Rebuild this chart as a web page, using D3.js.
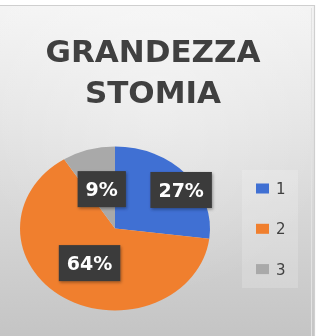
<!DOCTYPE html>
<html>
<head>
<meta charset="utf-8">
<script src="https://cdn.jsdelivr.net/npm/d3@7"></script>
<style>
  html, body { margin: 0; padding: 0; background: #ffffff; }
  svg { display: block; }
</style>
</head>
<body>
<svg id="chart" width="331" height="336"></svg>
<script>
// Chart content
const title = ["GRANDEZZA", "STOMIA"];
const categories = ["1", "2", "3"];
const values = [27, 64, 9];
const colors = ["#3f6fd3", "#f07f2f", "#a9a9a9"];

const W = 331, H = 336;
const svg = d3.select("#chart");
const defs = svg.append("defs");

// panel background: light at the top, darker grey towards the bottom
const bg = defs.append("linearGradient").attr("id", "bg")
  .attr("x1", 0).attr("y1", 0).attr("x2", 0).attr("y2", 1);
bg.append("stop").attr("offset", "0%").attr("stop-color", "#f4f4f4");
bg.append("stop").attr("offset", "35%").attr("stop-color", "#e4e4e4");
bg.append("stop").attr("offset", "100%").attr("stop-color", "#c3c3c3");

const glow = defs.append("radialGradient").attr("id", "glow")
  .attr("cx", "50%").attr("cy", "25%").attr("r", "60%");
glow.append("stop").attr("offset", "0%").attr("stop-color", "#ffffff").attr("stop-opacity", 0.35);
glow.append("stop").attr("offset", "100%").attr("stop-color", "#ffffff").attr("stop-opacity", 0);

const soft = defs.append("filter").attr("id", "soft")
  .attr("x", "-5%").attr("y", "-5%").attr("width", "110%").attr("height", "110%");
soft.append("feGaussianBlur").attr("stdDeviation", 0.7);

const shadow = defs.append("filter").attr("id", "shadow")
  .attr("x", "-30%").attr("y", "-30%").attr("width", "160%").attr("height", "160%");
shadow.append("feDropShadow").attr("dx", 1).attr("dy", 1.5)
  .attr("stdDeviation", 1.5).attr("flood-color", "#000").attr("flood-opacity", 0.35);

const root = svg.append("g").attr("filter", "url(#soft)");

// chart panel
const panel = { x: 0, y: 5, w: 314, h: 340 };
root.append("rect").attr("x", panel.x).attr("y", panel.y)
  .attr("width", panel.w).attr("height", panel.h).attr("fill", "url(#bg)");
root.append("rect").attr("x", panel.x).attr("y", panel.y)
  .attr("width", panel.w).attr("height", panel.h).attr("fill", "url(#glow)");
root.append("path")
  .attr("d", `M${panel.x},${panel.y + 0.5} H${panel.w + 0.5} V${H}`)
  .attr("fill", "none").attr("stroke", "#cfcfcf").attr("stroke-width", 1.2);
root.append("line").attr("x1", panel.w - 2.5).attr("x2", panel.w - 2.5)
  .attr("y1", panel.y + 3).attr("y2", H)
  .attr("stroke", "#e2e2e2").attr("stroke-width", 1);

// title
const titleG = root.append("g")
  .attr("font-family", "DejaVu Sans, sans-serif")
  .attr("font-weight", "bold").attr("font-size", 31)
  .attr("fill", "#3f3f3f").attr("text-anchor", "middle");
titleG.selectAll("text").data(title).join("text")
  .attr("x", 153).attr("y", (d, i) => 62 + i * 41)
  .text(d => d);

// pie (drawn round, then stretched horizontally)
const cx = 115, cy = 228.5, r = 82, sx = 95 / 82;
const pie = d3.pie().sort(null).value(d => d)
  .startAngle(0).endAngle(2 * Math.PI);
const arcs = pie(values);
const arc = d3.arc().innerRadius(0).outerRadius(r);

const pieG = root.append("g").attr("transform", `translate(${cx},${cy}) scale(${sx},1)`);
pieG.selectAll("path").data(arcs).join("path")
  .attr("d", arc)
  .attr("fill", (d, i) => colors[i]);

// data labels
const total = d3.sum(values);
function labelPos(d, i) {
  let a = (d.startAngle + d.endAngle) / 2;
  let rr = r / 2;
  // first label is pushed outwards so it clears its neighbour
  if (i === 0) { a += 7.4 * Math.PI / 180; rr = r * 0.84; }
  return [cx + Math.sin(a) * rr * sx, cy - Math.cos(a) * rr];
}
const labG = root.append("g")
  .attr("font-family", "DejaVu Sans, sans-serif")
  .attr("font-weight", "bold").attr("font-size", 19);
arcs.forEach((d, i) => {
  const [x, y] = labelPos(d, i);
  const txt = Math.round(values[i] / total * 100) + "%";
  const g = labG.append("g").attr("transform", `translate(${x},${y})`);
  const box = g.append("rect").attr("fill", "#3a3a3a").attr("filter", "url(#shadow)");
  const t = g.append("text").attr("text-anchor", "middle").attr("y", 7)
    .attr("fill", "#ffffff").text(txt);
  const bw = t.node().getComputedTextLength() + 16;
  box.attr("x", -bw / 2).attr("y", -18).attr("width", bw).attr("height", 36);
});

// legend
const leg = root.append("g");
leg.append("rect").attr("x", 242).attr("y", 170).attr("width", 56).attr("height", 118)
  .attr("fill", "#ffffff").attr("opacity", 0.18);
const legItems = leg.selectAll("g.item").data(categories).join("g")
  .attr("class", "item")
  .attr("transform", (d, i) => `translate(256,${188.5 + i * 40.3})`);
legItems.append("rect").attr("x", 0).attr("y", -5).attr("width", 13).attr("height", 10)
  .attr("fill", (d, i) => colors[i]);
legItems.append("text").attr("x", 20).attr("y", 5.5)
  .attr("font-family", "DejaVu Sans, sans-serif").attr("font-size", 15)
  .attr("fill", "#404040").text(d => d);
</script>
</body>
</html>
